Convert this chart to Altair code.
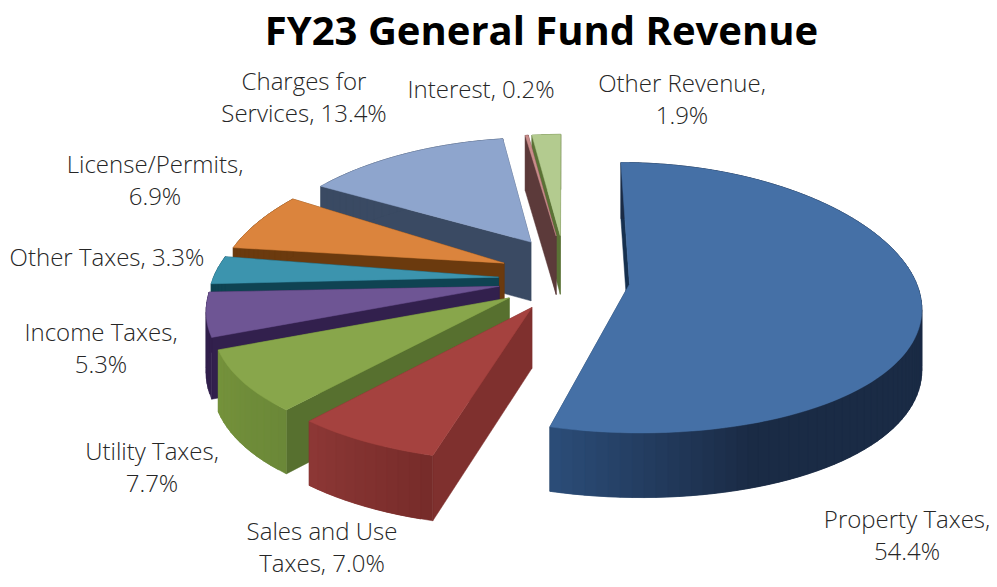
import math
import altair as alt

# ---- chart values -------------------------------------------------------
categories = ["Property Taxes", "Sales and Use Taxes", "Utility Taxes", "Income Taxes",
              "Other Taxes", "License/Permits", "Charges for Services", "Interest", "Other Revenue"]
shares = [54.4, 7.0, 7.7, 5.3, 3.3, 6.9, 13.4, 0.2, 1.9]
label_breaks = ["Property Taxes,\n54.4%", "Sales and Use\nTaxes, 7.0%", "Utility Taxes,\n7.7%",
                "Income Taxes,\n5.3%", "Other Taxes, 3.3%", "License/Permits,\n6.9%",
                "Charges for\nServices, 13.4%", "Interest, 0.2%", "Other Revenue,\n1.9%"]
title_text = "FY23 General Fund Revenue"

# ---- styling ------------------------------------------------------------
top_colors = ["#4570A6", "#A5423F", "#88A64B", "#6E5594", "#3C94AE", "#DB843D", "#8EA5CD", "#C98C8A", "#B3CB8F"]
face_colors = ["#16304F", "#7F302E", "#57702F", "#32204D", "#0F4352", "#6B3A0E", "#3A4A63", "#5C3A3A", "#5A7235"]
wall_left = ["#2C4E7A", "#8E3836", "#76933C", "#32204D", "#0F4352", "#6B3A0E", "#3A4A63", "#5C3A3A", "#5A7235"]
wall_right = ["#1A2B45", "#772C2A", "#6B8838", "#32204D", "#0F4352", "#6B3A0E", "#3A4A63", "#5C3A3A", "#5A7235"]
label_x = [907, 322, 152, 101, 107, 155, 304, 481, 682]
label_y = [521, 533, 453, 334, 259, 166, 83, 91, 85]

# ---- 3D projection parameters (pixels of the picture) -------------------
CX, CY = 564, 280      # centre of the un-exploded pie
RX, RY = 286, 133      # disc radii
KX = 0.15              # perspective strength, horizontally
K = 0.10               # perspective strength, vertically
KZ = 0.07              # perspective strength on the wall height
EXPLODE = 0.23         # slice pull-out, in radii
DEPTH = 60             # wall height
SHADE_FROM = math.radians(160)
PLOT_W, PLOT_H = 981, 567
OX, OY = 8, 8


def project(u, v, z=0.0):
    return [round(CX + RX * u / (1.0 + KX * v), 2),
            round(CY - RY * v / (1.0 + K * v) + DEPTH * z / (1.0 + KZ * v), 2)]


def mix(a, b, t):
    ca = [int(a[i:i + 2], 16) for i in (1, 3, 5)]
    cb = [int(b[i:i + 2], 16) for i in (1, 3, 5)]
    return "#" + "".join(f"{round(x + (y - x) * t):02X}" for x, y in zip(ca, cb))


def feature(ring, fill, name):
    return {"type": "Feature", "properties": {"fill": fill, "name": name},
            "geometry": {"type": "Polygon", "coordinates": [ring + [ring[0]]]}}


slices = []
acc = 0.0
total = sum(shares)
for i, s in enumerate(shares):
    a0 = acc / total * 2 * math.pi
    acc += s
    a1 = acc / total * 2 * math.pi
    mid = (a0 + a1) / 2
    slices.append((math.cos(mid), i, a0, a1, mid))

features = []
for _, i, a0, a1, mid in sorted(slices, key=lambda r: -r[0]):
    name = categories[i]
    ex, ey = EXPLODE * math.sin(mid), EXPLODE * math.cos(mid)
    ay = ey * 1.5 if ey > 0 else ey     # tips of the far slices sit higher in the picture
    n = max(2, int((a1 - a0) / math.radians(2.0)))
    angles = [a0 + (a1 - a0) * j / n for j in range(n + 1)]
    rim = [(ex + math.sin(a), ey + math.cos(a)) for a in angles]

    # radial cut faces, far one first
    for u, v in sorted([rim[0], rim[-1]], key=lambda q: -q[1]):
        ring = [project(ex, ay), project(u, v), project(u, v, 1), project(ex, ay, 1)]
        features.append(feature(ring, face_colors[i], name))
    # outer wall: overlapping quads so no seams show
    start = max(a0, SHADE_FROM)
    for j in range(n):
        u0, v0 = rim[j]
        u1, v1 = rim[min(j + 2, n)]
        t = (angles[j] - start) / max(1e-6, a1 - start)
        t = min(1.0, max(0.0, t))
        ring = [project(u0, v0), project(u1, v1), project(u1, v1, 1), project(u0, v0, 1)]
        features.append(feature(ring, mix(wall_right[i], wall_left[i], t), name))
    # top surface
    ring = [project(ex, ay)] + [project(u, v) for u, v in rim]
    features.append(feature(ring, top_colors[i], name))

pie = alt.Chart(alt.Data(values=features)).mark_geoshape(strokeWidth=0.5).encode(
    fill=alt.Fill("properties.fill:N", scale=None),
    stroke=alt.Stroke("properties.fill:N", scale=None),
).project(type="identity", scale=1, translate=[-OX, -OY])

x_enc = alt.X("x:Q", axis=None, scale=alt.Scale(domain=[OX, OX + PLOT_W], nice=False))
y_enc = alt.Y("y:Q", axis=None, scale=alt.Scale(domain=[OY + PLOT_H, OY], nice=False))

label_rows = [{"label": t, "x": x, "y": y} for t, x, y in zip(label_breaks, label_x, label_y)]
labels = alt.Chart(alt.Data(values=label_rows)).mark_text(
    font="Open Sans", fontWeight=300, fontSize=24, lineBreak="\n", lineHeight=32,
    align="center", baseline="middle", color="#262626",
).encode(x=x_enc, y=y_enc, text="label:N")

title_rows = [{"label": title_text, "x": 541.5, "y": 33}]
title = alt.Chart(alt.Data(values=title_rows)).mark_text(
    font="Open Sans", fontWeight=700, fontSize=40, align="center", baseline="middle", color="#000000",
).encode(x=x_enc, y=y_enc, text="label:N")

chart = alt.layer(pie, labels, title).properties(
    width=PLOT_W, height=PLOT_H, padding=0, background="white",
    autosize=alt.AutoSizeParams(type="none"),
).configure_view(stroke=None)

chart.save("out.html", embed_options={"renderer": "svg", "actions": False})
